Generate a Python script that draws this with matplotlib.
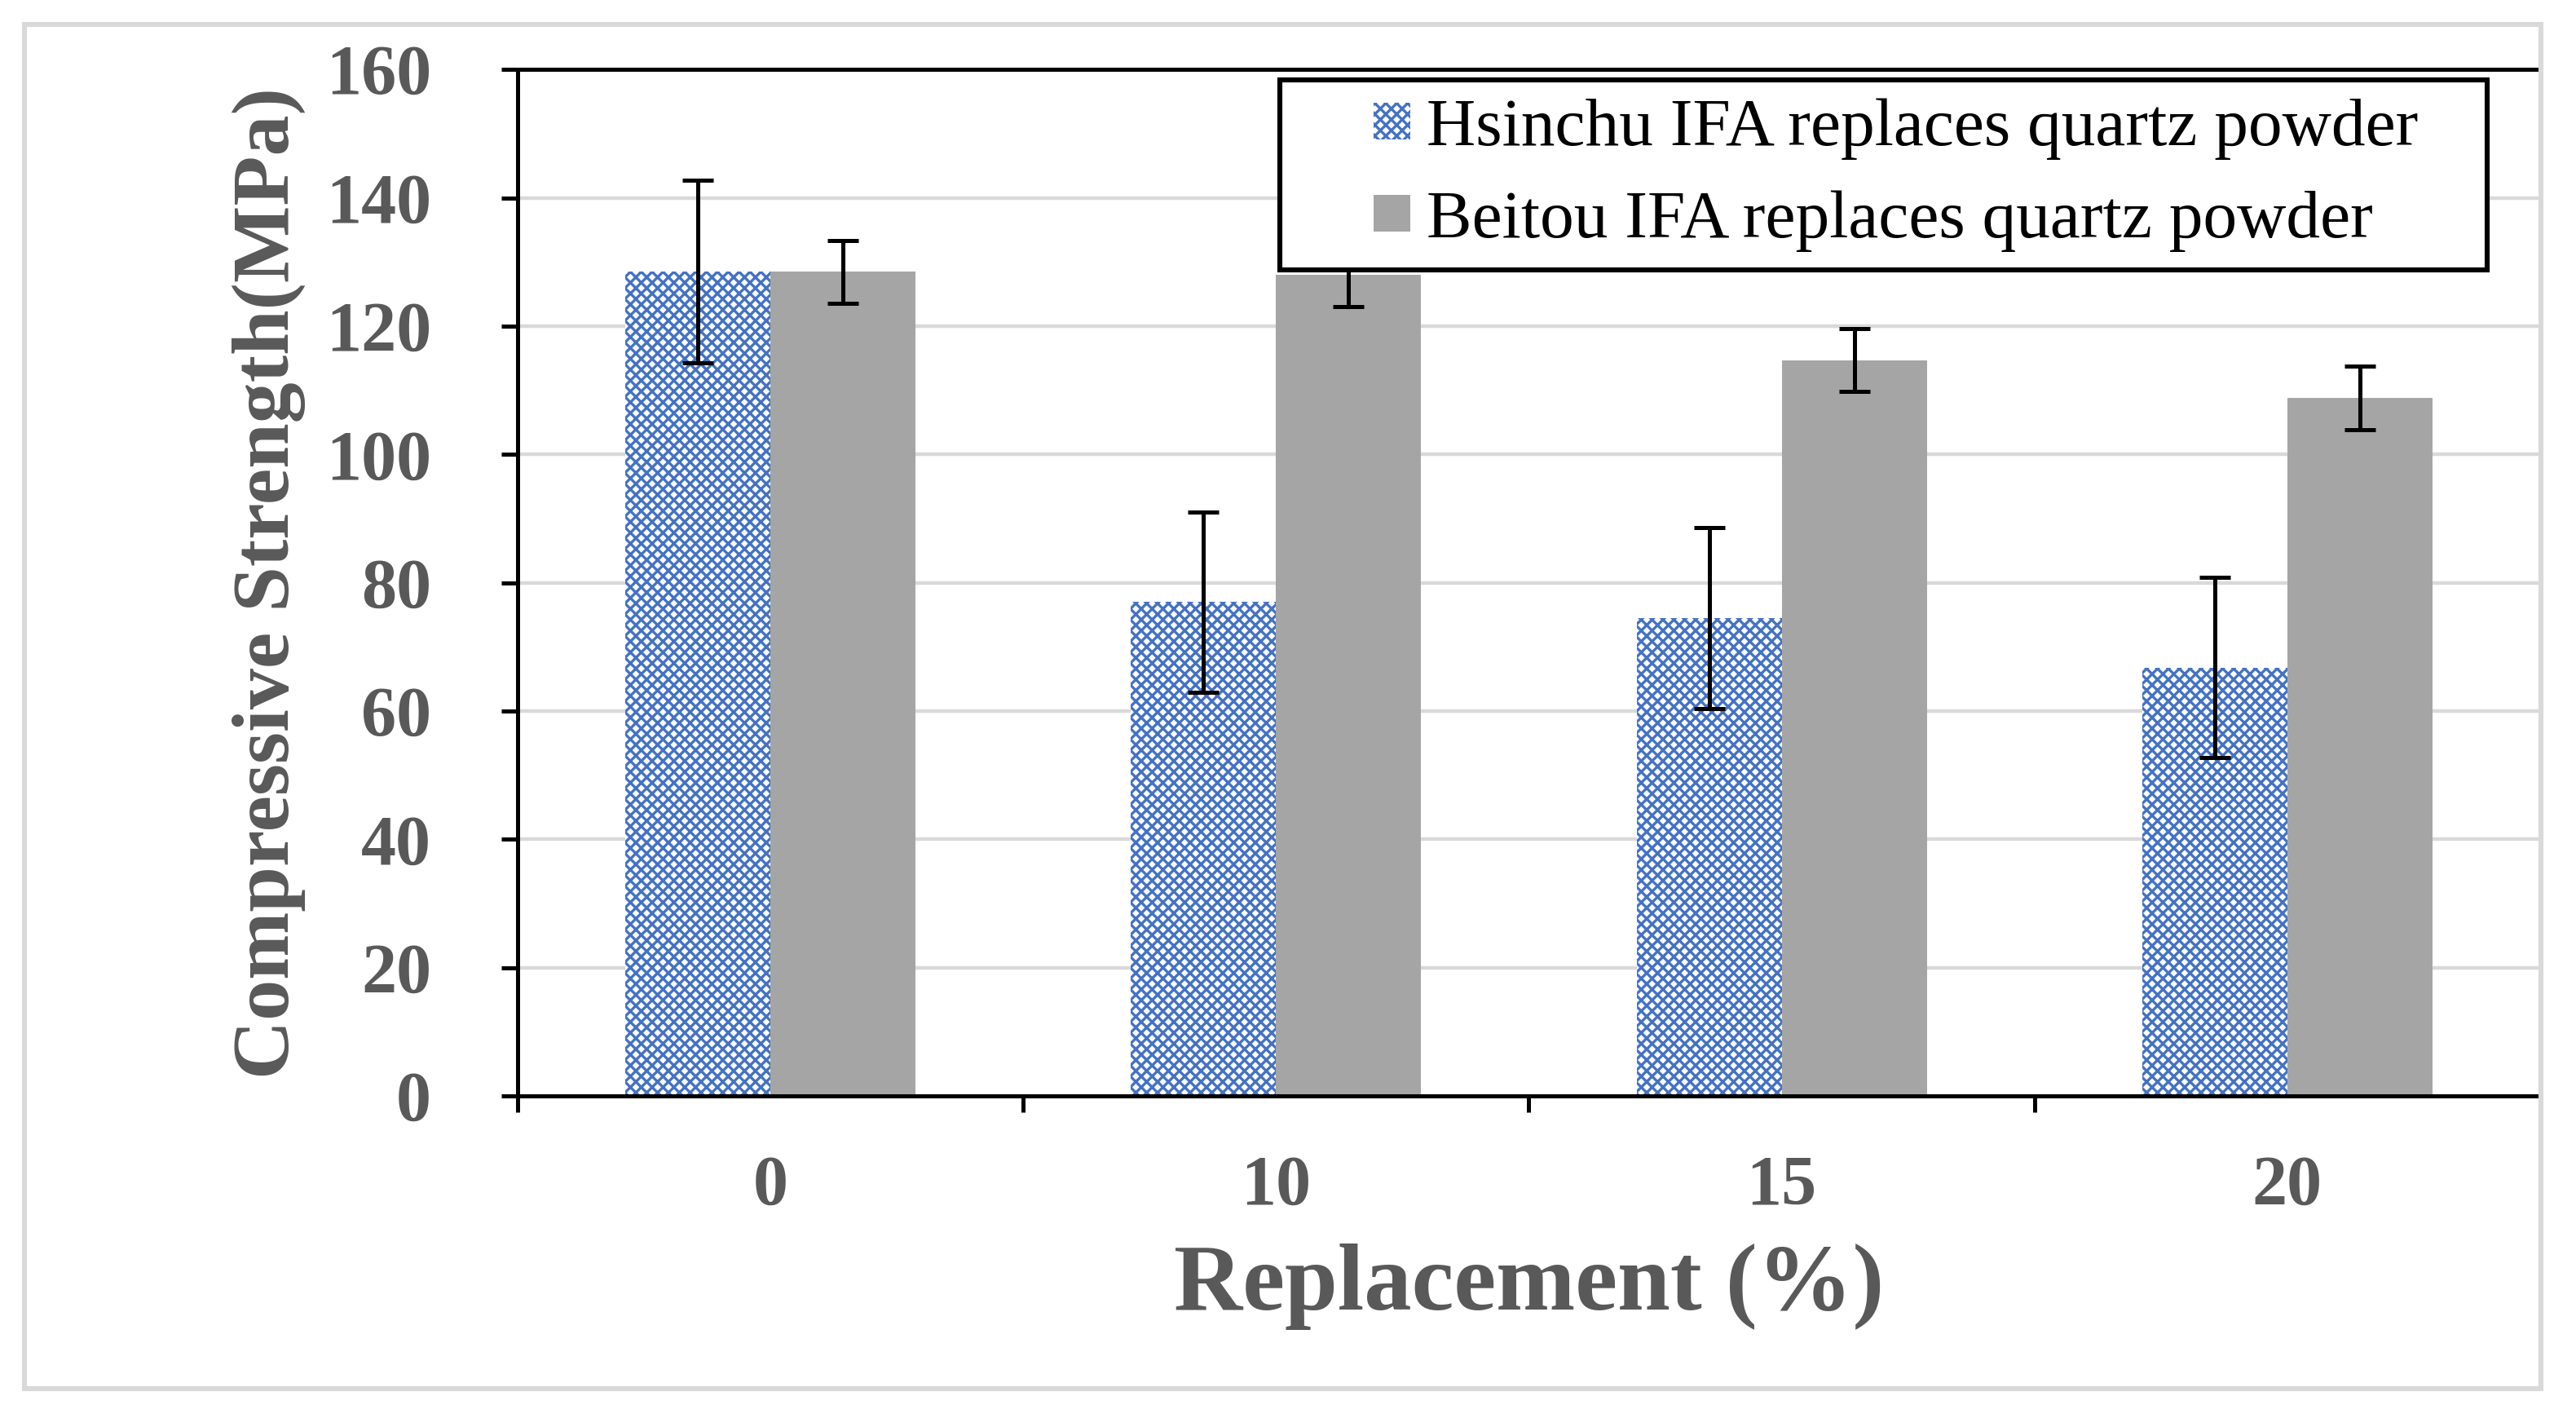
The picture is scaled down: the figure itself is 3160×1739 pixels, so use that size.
import matplotlib

matplotlib.use("Agg")
import matplotlib.pyplot as plt
from matplotlib.legend_handler import HandlerPatch
from matplotlib.patches import Rectangle
import numpy as np

# values
categories = ["0", "10", "15", "20"]
hsinchu = [128.5, 77.0, 74.5, 66.8]
hsinchu_err = [14.2, 14.0, 14.1, 14.0]
beitou = [128.5, 128.0, 114.7, 108.8]
beitou_err = [4.9, 5.0, 4.9, 5.0]
series_labels = ["Hsinchu IFA replaces quartz powder",
                 "Beitou IFA replaces quartz powder"]
yticks = list(range(0, 161, 20))

plt.rcParams["font.family"] = ["Liberation Serif", "DejaVu Serif"]
plt.rcParams["hatch.linewidth"] = 1.2

GRAY_TEXT = "#595959"
BLUE = "#4472C4"
BAR_GRAY = "#A5A5A5"
GRID = "#D9D9D9"


def square_handle(legend, orig_handle, xdescent, ydescent, width, height, fontsize):
    # small square pushed to the right end of the handle box
    side = height
    return Rectangle((width - side - xdescent, -ydescent), side, side)


def main():
    fig = plt.figure(figsize=(15.8, 8.695), dpi=200)
    ax = fig.add_axes([0.201, 0.227, 0.785, 0.724])

    x = np.arange(len(categories))
    w = 0.287
    b1 = ax.bar(x - w / 2, hsinchu, w, facecolor="white", edgecolor=BLUE,
                hatch="xxxxx", linewidth=0, zorder=2)
    b2 = ax.bar(x + w / 2, beitou, w, color=BAR_GRAY, linewidth=0, zorder=2)
    ax.errorbar(x - w / 2, hsinchu, yerr=hsinchu_err, fmt="none", ecolor="black",
                elinewidth=1.8, capsize=7, capthick=1.8, zorder=3)
    ax.errorbar(x + w / 2, beitou, yerr=beitou_err, fmt="none", ecolor="black",
                elinewidth=1.8, capsize=7, capthick=1.8, zorder=3)

    ax.set_xlim(-0.5, len(categories) - 0.5)
    ax.set_ylim(0, 160)
    ax.set_yticks(yticks)
    ax.yaxis.grid(True, color=GRID, linewidth=1.6, zorder=0)
    ax.set_axisbelow(True)

    ax.set_xticks(x)
    ax.set_xticklabels(categories)
    ax.set_xticks(np.arange(len(categories) + 1) - 0.5, minor=True)
    ax.tick_params(axis="x", which="major", length=0, pad=26)
    ax.tick_params(axis="x", which="minor", length=7.2, width=1.8, direction="out")
    ax.tick_params(axis="y", length=7.2, width=1.8, direction="out", pad=31)
    for lab in ax.get_xticklabels() + ax.get_yticklabels():
        lab.set_fontsize(31)
        lab.set_fontweight("bold")
        lab.set_color(GRAY_TEXT)

    for side in ("left", "bottom", "top"):
        ax.spines[side].set_color("black")
        ax.spines[side].set_linewidth(1.8)
    ax.spines["right"].set_visible(False)

    ax.set_ylabel("Compressive Strength(MPa)", fontsize=36, fontweight="bold",
                  color=GRAY_TEXT)
    ax.yaxis.set_label_coords(-0.105, 0.5)
    ax.set_xlabel("Replacement (%)", fontsize=42, fontweight="bold",
                  color=GRAY_TEXT, va="center")
    ax.xaxis.set_label_coords(0.5, -0.186)

    handler = HandlerPatch(patch_func=square_handle)
    leg = ax.legend([b1.patches[0], b2.patches[0]], series_labels,
                    loc="upper left", bbox_to_anchor=(0.377, 0.80, 0.597, 0.19),
                    mode="expand", borderaxespad=0, fontsize=30,
                    handlelength=1.64, handleheight=0.45, handletextpad=0.24,
                    borderpad=0.27, labelspacing=0.45, fancybox=False, framealpha=1,
                    handler_map={Rectangle: handler})
    leg.get_frame().set_edgecolor("black")
    leg.get_frame().set_linewidth(2.2)

    # light gray chart-area border
    fig.patches.append(Rectangle((0.0095, 0.0207), 0.977, 0.962, transform=fig.transFigure,
                                 fill=False, edgecolor=GRID, linewidth=2.2))

    fig.savefig("out.png", dpi=200)
    plt.close(fig)


if __name__ == "__main__":
    main()
